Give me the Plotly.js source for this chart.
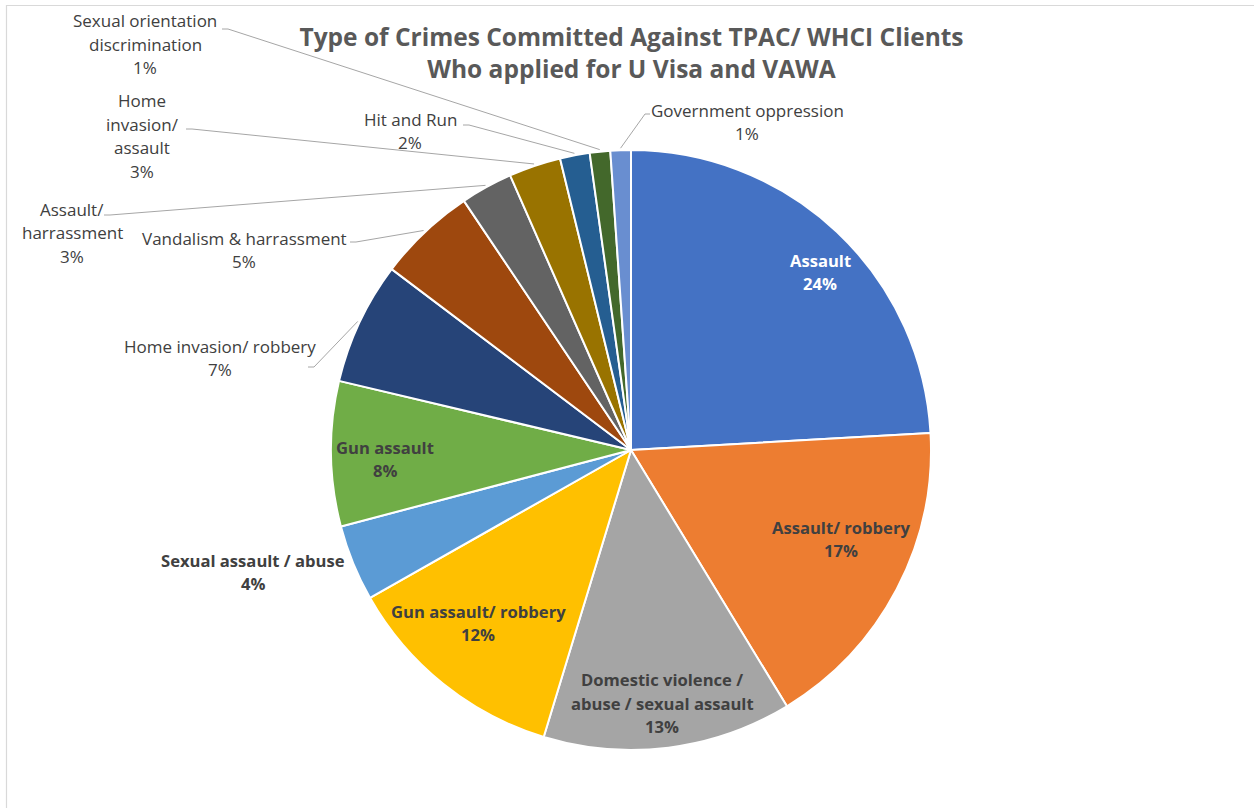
<!DOCTYPE html>
<html><head><meta charset="utf-8">
<script src="https://cdn.plot.ly/plotly-3.0.1.min.js"></script>
<style>html,body{margin:0;padding:0;background:#fff;} #chart{width:1254px;height:808px;}</style>
</head><body><div id="chart"></div>
<script>
// ---- data ----
const categories = ['Assault','Assault/ robbery','Domestic violence / abuse / sexual assault','Gun assault/ robbery','Sexual assault / abuse','Gun assault','Home invasion/ robbery','Vandalism & harrassment','Assault/ harrassment','Home invasion/ assault','Hit and Run','Sexual orientation discrimination','Government oppression'];
const values = [24.1, 17.2, 13.4, 12.1, 4.1, 7.8, 6.6, 5.3, 2.8, 2.8, 1.6, 1.1, 1.1];
const sliceColors = ['#4472C4','#ED7D31','#A5A5A5','#FFC000','#5B9BD5','#70AD47','#264478','#9E480E','#636363','#997300','#255E91','#43682B','#698ED0'];
const labelLines = [['Assault'],['Assault/ robbery'],['Domestic violence /','abuse / sexual assault'],['Gun assault/ robbery'],['Sexual assault / abuse'],['Gun assault'],['Home invasion/ robbery'],['Vandalism & harrassment'],['Assault/','harrassment'],['Home','invasion/','assault'],['Hit and Run'],['Sexual orientation','discrimination'],['Government oppression']];
const titleLines = ['Type of Crimes Committed Against TPAC/ WHCI Clients','Who applied for U Visa and VAWA'];

// ---- layout / style ----
const W = 1254, H = 808, CX = 631, CY = 450, R = 300;
const labelCenter = [[820,272],[841,539],[662,703],[478,623],[253,572],[385,459],[220,358],[244,250],[72,233],[142,136],[410,131],[145,44],[747,122]];
const labelBold = [true,true,true,true,true,true,false,false,false,false,false,false,false];
const labelColor = ['#FFFFFF','#404040','#404040','#404040','#404040','#404040','#404040','#404040','#404040','#404040','#404040','#404040','#404040'];
const leaderStart = [null,null,null,null,null,null,[308,367],[350,242],[104,215],[186,129],[463,125],[222,29],[650,114]];
const leaderElbow = [null,null,null,null,null,null,6,6,6,6,6,6,-5];
const LINE_STEP = 23.5;

const total = values.reduce((a,b)=>a+b,0);
const pctText = values.map(v => Math.round(v/total*100) + '%');
let cum = 0; const mid = [];
values.forEach(v => { mid.push((cum + v/2)/total*2*Math.PI); cum += v; });
const px = x => x/W, py = y => 1 - y/H;

const annotations = [];
labelLines.forEach((lines, i) => {
  const all = lines.concat([pctText[i]]);
  const n = all.length;
  all.forEach((t, k) => {
    const y = labelCenter[i][1] + (k - (n-1)/2)*LINE_STEP;
    annotations.push({
      x: px(labelCenter[i][0]), y: py(y), xref:'paper', yref:'paper',
      text: labelBold[i] ? '<b>'+t+'</b>' : t, showarrow:false,
      xanchor:'center', yanchor:'middle',
      font:{family:'Open Sans', size: labelBold[i] ? 16.6 : 17, color:labelColor[i]}
    });
  });
});

const shapes = [{type:'rect', xref:'paper', yref:'paper', x0:px(6.5), x1:1.02, y0:-0.02, y1:py(5.5), line:{color:'#D9D9D9', width:1.2}, fillcolor:'rgba(0,0,0,0)', layer:'below'}];
leaderStart.forEach((s, i) => {
  if (!s) return;
  const ex = CX + (R+2)*Math.sin(mid[i]), ey = CY - (R+2)*Math.cos(mid[i]);
  const elx = s[0] + leaderElbow[i];
  const path = `M ${px(s[0])} ${py(s[1])} L ${px(elx)} ${py(s[1])} L ${px(ex)} ${py(ey)}`;
  shapes.push({type:'path', xref:'paper', yref:'paper', path:path, line:{color:'#A6A6A6', width:1}});
});

const trace = {
  type:'pie', labels:categories, values:values, sort:false, direction:'clockwise', rotation:0,
  marker:{colors:sliceColors, line:{color:'#FFFFFF', width:2}},
  textinfo:'none', hoverinfo:'label+percent', showlegend:false,
  domain:{x:[px(CX-R), px(CX+R)], y:[py(CY+R), py(CY-R)]}
};

const layout = {
  width:W, height:H, margin:{l:0,r:0,t:0,b:0}, paper_bgcolor:'#FFFFFF',
  font:{family:'Open Sans', color:'#404040'},
  title:{text:titleLines.join('<br>'), font:{family:'Open Sans', size:24.5, color:'#595959', weight:700},
         x:px(631.5), xanchor:'center', xref:'paper', y:py(46), yanchor:'middle', yref:'paper'},
  annotations:annotations, shapes:shapes, showlegend:false
};
Plotly.newPlot('chart', [trace], layout, {displayModeBar:false, staticPlot:true});
</script></body></html>
